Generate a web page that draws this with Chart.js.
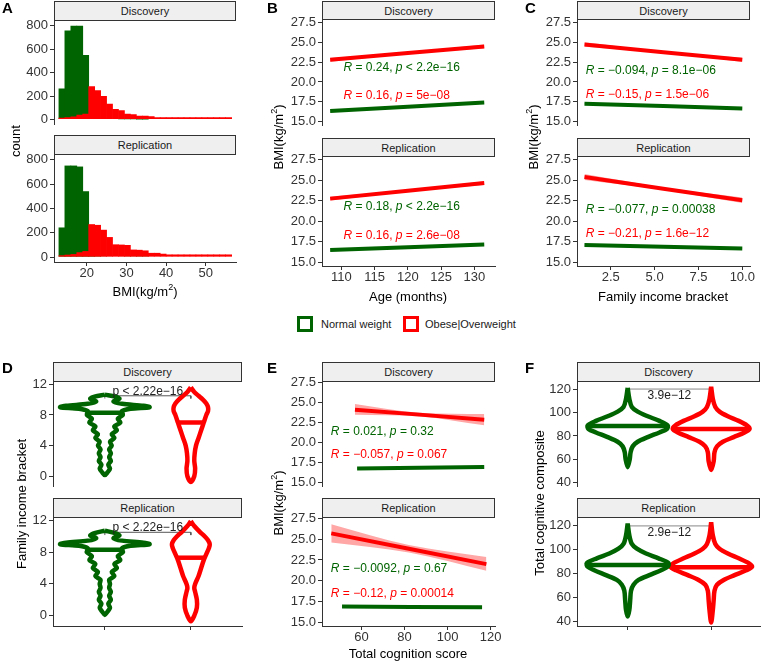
<!DOCTYPE html>
<html>
<head>
<meta charset="utf-8">
<script src="https://cdn.jsdelivr.net/npm/chart.js@4.4.1/dist/chart.umd.min.js"></script>
<style>
    body { margin: 0; width: 761px; height: 661px; position: relative; overflow: hidden; background: #fff;
           font-family: "Liberation Sans", Arial, sans-serif; }
    .strip { position: absolute; box-sizing: border-box; border: 1px solid #333; background: #efefef;
             font-size: 11px; color: #1a1a1a; display: flex; align-items: center; justify-content: center; z-index: 2; }
    .tag { position: absolute; font-weight: bold; font-size: 15px; line-height: 15px; z-index: 3; }
    .ttl { position: absolute; font-size: 13px; line-height: 15px; color: #000; white-space: nowrap;
           transform: translate(-50%, -50%); z-index: 3; }
    .ttl.rot { transform: translate(-50%, -50%) rotate(-90deg); }
    .ttl sup { font-size: 9px; line-height: 0; }
    .key { position: absolute; box-sizing: border-box; width: 16px; height: 16px; border: 3px solid; background: #fff; }
    .keytxt { position: absolute; font-size: 11px; line-height: 14px; color: #1a1a1a; white-space: nowrap; }
</style>
</head>
<body>
<script>
"use strict"

//colori
const GREEN = "#006400";
const RED = "#ff0000";

// ---------- A: istogramma BMI (centri dei bin, larghezza 1.5)
const bmiBins = [13.75, 15.25, 16.75, 18.25, 19.75, 21.25, 22.75, 24.25, 25.75, 27.25, 28.75, 30.25, 31.75, 33.25, 34.75,
    36.25, 37.75, 39.25, 40.75, 42.25, 43.75, 45.25, 46.75, 48.25, 49.75, 51.25, 52.75, 54.25, 55.75];
const histNormDisc = [265, 760, 800, 800, 550, 12, 8, 6, 5, 4, 3, 2, 2, 1, 1, 0, 0, 0, 0, 0, 0, 0, 0, 0, 0, 0, 0, 0, 0];
const histObeseDisc = [15, 20, 25, 40, 50, 283, 250, 200, 135, 90, 80, 50, 45, 32, 32, 28, 20, 20, 20, 20, 20, 20, 20, 20, 20, 20, 20, 20, 20];
const histNormRepl = [244, 753, 753, 745, 542, 12, 8, 6, 5, 4, 3, 2, 2, 1, 1, 0, 0, 0, 0, 0, 0, 0, 0, 0, 0, 0, 0, 0, 0];
const histObeseRepl = [15, 20, 25, 40, 50, 271, 265, 225, 165, 105, 103, 100, 62, 60, 55, 35, 35, 28, 22, 22, 22, 22, 22, 22, 22, 22, 22, 22, 22];
const countTicks = [0, 200, 400, 600, 800];
const bmiTicks = [20, 30, 40, 50];

// ---------- B: BMI vs eta' (retta + banda)
const ageX = [108.3, 120, 131.5];
const bNormDisc = [16.33, 16.88, 17.42], bNormDiscLo = [16.25, 16.83, 17.34], bNormDiscHi = [16.41, 16.93, 17.5];
const bObeseDisc = [22.78, 23.63, 24.47], bObeseDiscLo = [22.55, 23.53, 24.25], bObeseDiscHi = [23.0, 23.73, 24.7];
const bNormRepl = [16.49, 16.83, 17.17], bNormReplLo = [16.41, 16.78, 17.09], bNormReplHi = [16.57, 16.88, 17.25];
const bObeseRepl = [22.74, 23.69, 24.63], bObeseReplLo = [22.5, 23.58, 24.4], bObeseReplHi = [22.98, 23.8, 24.86];
const ageTicks = [110, 115, 120, 125, 130];

// ---------- C: BMI vs fascia di reddito
const incomeX = [1, 5.5, 10];
const cNormDisc = [17.26, 16.96, 16.66], cNormDiscLo = [17.18, 16.92, 16.58], cNormDiscHi = [17.34, 17.0, 16.74];
const cObeseDisc = [24.72, 23.75, 22.78], cObeseDiscLo = [24.44, 23.63, 22.52], cObeseDiscHi = [25.0, 23.87, 23.04];
const cNormRepl = [17.09, 16.89, 16.69], cNormReplLo = [17.01, 16.85, 16.61], cNormReplHi = [17.17, 16.93, 16.77];
const cObeseRepl = [25.36, 23.95, 22.54], cObeseReplLo = [25.0, 23.8, 22.2], cObeseReplHi = [25.72, 24.1, 22.88];
const incomeTicks = [2.5, 5, 7.5, 10];
const incomeLabels = ["2.5", "5.0", "7.5", "10.0"];

// ---------- E: BMI vs cognizione
const eNormDiscX = [58, 87, 117], eNormDisc = [16.75, 16.85, 16.95], eNormDiscLo = [16.63, 16.8, 16.83], eNormDiscHi = [16.87, 16.9, 17.07];
const eObeseDiscX = [57, 87, 117], eObeseDisc = [24.1, 23.48, 22.85], eObeseDiscLo = [23.45, 23.25, 22.15], eObeseDiscHi = [24.8, 23.72, 23.55];
const eNormReplX = [51, 83, 116], eNormRepl = [16.9, 16.85, 16.8], eNormReplLo = [16.8, 16.8, 16.7], eNormReplHi = [17.0, 16.9, 16.9];
const eObeseReplX = [46, 82, 118], eObeseRepl = [25.7, 23.85, 22.0], eObeseReplLo = [24.6, 23.4, 21.2], eObeseReplHi = [26.8, 24.3, 22.85];
const cogTicks = [60, 80, 100, 120];

const bmiYTicks = [15, 17.5, 20, 22.5, 25, 27.5];
const bmiYLabels = ["15.0", "17.5", "20.0", "22.5", "25.0", "27.5"];

// ---------- D: violini fascia di reddito (livello, semi-larghezza)
const dNormDiscY = [10.65, 10.4, 10.1, 9.75, 9.45, 9.2, 9.0, 8.8, 8.5, 8.0, 7.5, 7.0, 6.5, 6.0, 5.5, 5.0, 4.5, 4.0, 3.5, 3.0, 2.5, 2.0, 1.5, 1.0, 0.5, 0.15];
const dNormDiscW = [0, 0.12, 0.17, 0.1, 0.2, 0.45, 0.52, 0.3, 0.2, 0.21, 0.15, 0.18, 0.11, 0.14, 0.08, 0.11, 0.06, 0.08, 0.05, 0.07, 0.05, 0.07, 0.04, 0.06, 0.03, 0];
const dObeseDiscY = [11.6, 11.0, 10.5, 10.0, 9.5, 9.0, 8.5, 8.0, 7.0, 6.0, 5.0, 4.0, 3.0, 2.0, 1.0, 0.0, -0.75];
const dObeseDiscW = [0, 0.04, 0.09, 0.14, 0.18, 0.2, 0.2, 0.18, 0.15, 0.12, 0.09, 0.06, 0.045, 0.04, 0.05, 0.04, 0];
const dNormReplY = [10.7, 10.4, 10.1, 9.75, 9.45, 9.2, 9.0, 8.8, 8.5, 8.0, 7.5, 7.0, 6.5, 6.0, 5.5, 5.0, 4.5, 4.0, 3.5, 3.0, 2.5, 2.0, 1.5, 1.0, 0.5, 0.1];
const dNormReplW = [0, 0.12, 0.17, 0.1, 0.2, 0.45, 0.52, 0.3, 0.2, 0.21, 0.15, 0.18, 0.11, 0.14, 0.08, 0.11, 0.05, 0.06, 0.05, 0.07, 0.05, 0.07, 0.04, 0.06, 0.03, 0];
const dObeseReplY = [11.9, 11.3, 10.5, 10.0, 9.5, 9.0, 8.5, 8.0, 7.0, 6.0, 5.0, 4.0, 3.5, 3.0, 2.0, 1.0, 0.0, -0.7];
const dObeseReplW = [0, 0.04, 0.11, 0.16, 0.2, 0.22, 0.21, 0.19, 0.15, 0.12, 0.09, 0.05, 0.04, 0.05, 0.07, 0.07, 0.04, 0];
const dMedians = { normDisc: [8.3, 0.2], obeseDisc: [7.0, 0.15], normRepl: [8.3, 0.2], obeseRepl: [7.3, 0.16] };
const incomeYTicks = [0, 4, 8, 12];

// ---------- F: violini cognizione
const fNormDiscY = [121.5, 112, 105, 101, 97, 93, 89, 86, 83, 79, 75, 71, 66, 60, 53];
const fNormDiscW = [0, 0.02, 0.05, 0.12, 0.24, 0.38, 0.48, 0.47, 0.38, 0.24, 0.12, 0.06, 0.035, 0.025, 0];
const fObeseDiscY = [122.5, 112, 105, 101, 97, 93, 89, 86, 83, 79, 75, 71, 66, 58, 50.5];
const fObeseDiscW = [0, 0.02, 0.05, 0.1, 0.2, 0.33, 0.43, 0.46, 0.4, 0.27, 0.14, 0.07, 0.04, 0.03, 0];
const fNormReplY = [122, 112, 105, 101, 97, 93, 89, 86, 83, 79, 75, 71, 66, 58, 50, 44.5];
const fNormReplW = [0, 0.02, 0.05, 0.11, 0.22, 0.37, 0.49, 0.48, 0.4, 0.26, 0.13, 0.07, 0.04, 0.03, 0.02, 0];
const fObeseReplY = [123, 112, 105, 101, 97, 93, 89, 86, 83, 79, 75, 71, 66, 58, 50, 39.5];
const fObeseReplW = [0, 0.02, 0.05, 0.1, 0.2, 0.33, 0.45, 0.49, 0.42, 0.28, 0.15, 0.07, 0.04, 0.03, 0.02, 0];
const fMedians = { normDisc: [88.5, 0.48], obeseDisc: [86, 0.46], normRepl: [87.5, 0.48], obeseRepl: [85.5, 0.49] };
const cogYTicks = [40, 60, 80, 100, 120];

Chart.defaults.font.family = '"Liberation Sans", Arial, sans-serif';

//funzioni di supporto
function pts(xs, ys) {
    return xs.map((x, i) => ({ x: x, y: ys[i] }));
}

function stat(r, op, p) {
    return [{ t: "R", i: 1 }, { t: " = " + r + ", " }, { t: "p", i: 1 }, { t: " " + op + " " + p }];
}

function notes(items) {
    return {
        id: "notes",
        afterDatasetsDraw(chart) {
            const ctx = chart.ctx;
            items.forEach(function (it) {
                const font = r => (r.i ? "italic " : "") + "12px \"Liberation Sans\", Arial, sans-serif";
                let px = chart.scales.x.getPixelForValue(it.x);
                const py = chart.scales.y.getPixelForValue(it.y);
                ctx.save();
                ctx.fillStyle = it.color;
                ctx.textBaseline = "middle";
                let total = 0;
                it.runs.forEach(r => { ctx.font = font(r); total += ctx.measureText(r.t).width; });
                if (it.center) px -= total / 2;
                it.runs.forEach(r => { ctx.font = font(r); ctx.fillText(r.t, px, py); px += ctx.measureText(r.t).width; });
                ctx.restore();
            });
        }
    };
}

function bars(vals, color) {
    return {
        type: "bar", data: pts(bmiBins, vals), backgroundColor: color, borderWidth: 0,
        grouped: false, barPercentage: 1.12, categoryPercentage: 1
    };
}

function fitLayers(xs, fit, lo, hi, color, band) {
    return [
        { type: "line", data: pts(xs, fit), borderColor: color, borderWidth: 4, pointRadius: 0, fill: false, order: 0 },
        { type: "line", data: pts(xs, hi), borderColor: "transparent", borderWidth: 0, pointRadius: 0, fill: false,
          cubicInterpolationMode: "monotone", order: 1 },
        { type: "line", data: pts(xs, lo), borderColor: "transparent", borderWidth: 0, pointRadius: 0, fill: "-1",
          backgroundColor: band, cubicInterpolationMode: "monotone", order: 1 }
    ];
}

function violin(c, ys, ws, med, color) {
    const right = ys.map((y, i) => ({ x: c + ws[i], y: y }));
    const left = ys.map((y, i) => ({ x: c - ws[i], y: y })).reverse();
    return [
        { type: "line", data: right.concat(left.slice(1)), borderColor: color, borderWidth: 4.5, pointRadius: 0,
          tension: 0.3, fill: false, borderJoinStyle: "round" },
        { type: "line", data: [{ x: c - med[1], y: med[0] }, { x: c + med[1], y: med[0] }], borderColor: color,
          borderWidth: 4.5, pointRadius: 0, fill: false }
    ];
}

function bracket(y, tip, color) {
    return { type: "line", data: [{ x: 1, y: tip }, { x: 1, y: y }, { x: 2, y: y }, { x: 2, y: tip }],
             borderColor: color, borderWidth: 1, pointRadius: 0, fill: false };
}

function makePlot(box, opt) {
    const yw = 45, padT = 10, padR = 16;
    const xh = opt.bottom ? 30 : 6;
    const W = yw + box.w + padR, H = padT + box.h + xh;
    const cv = document.createElement("canvas");
    cv.width = W;
    cv.height = H;
    cv.style.cssText = "position:absolute;z-index:1;left:" + (box.l - yw) + "px;top:" + (box.t - padT) + "px;width:" + W + "px;height:" + H + "px";
    document.body.appendChild(cv);
    const ax = "#333";
    const xLabels = opt.xLabels || opt.xTicks.map(String);
    const yLabels = opt.yLabels || opt.yTicks.map(String);
    return new Chart(cv, {
        type: "line",
        data: { datasets: opt.datasets },
        options: {
            responsive: false, animation: false, devicePixelRatio: 1, events: [],
            layout: { padding: { top: padT, right: padR, left: 0, bottom: 0 } },
            plugins: { legend: { display: false }, tooltip: { enabled: false } },
            scales: {
                x: {
                    type: "linear", min: opt.x[0], max: opt.x[1], offset: false,
                    afterBuildTicks: s => { s.ticks = opt.xTicks.map(v => ({ value: v })); },
                    afterFit: s => { s.height = xh; },
                    ticks: { display: !!opt.bottom, autoSkip: false, maxRotation: 0, padding: 0, color: ax,
                             font: { size: 13 }, callback: (v, i) => xLabels[i] },
                    grid: { display: !!opt.bottom, offset: false, drawOnChartArea: false, tickLength: 4, color: ax },
                    border: { display: !!opt.bottom, color: ax }
                },
                y: {
                    type: "linear", min: opt.y[0], max: opt.y[1],
                    afterBuildTicks: s => { s.ticks = opt.yTicks.map(v => ({ value: v })); },
                    afterFit: s => { s.width = yw; },
                    ticks: { autoSkip: false, padding: 2, color: ax, font: { size: 13 }, callback: (v, i) => yLabels[i] },
                    grid: { drawOnChartArea: false, tickLength: 4, color: ax },
                    border: { color: ax }
                }
            }
        },
        plugins: [notes(opt.notes || [])]
    });
}

function div(cls, html, css) {
    const d = document.createElement("div");
    d.className = cls;
    d.innerHTML = html;
    d.style.cssText = css;
    document.body.appendChild(d);
    return d;
}

function strip(text, l, t, w, h) {
    div("strip", text, "left:" + l + "px;top:" + t + "px;width:" + w + "px;height:" + h + "px");
}

function title(html, x, y, rot) {
    div(rot ? "ttl rot" : "ttl", html, "left:" + x + "px;top:" + y + "px");
}

const BMI = "BMI(kg/m<sup>2</sup>)";

// ---------- A
makePlot({ l: 54, t: 21, w: 182, h: 107 }, {
    x: [11.76, 57.6], y: [-40, 840], xTicks: bmiTicks, yTicks: countTicks,
    datasets: [bars(histObeseDisc, RED), bars(histNormDisc, GREEN)]
});
makePlot({ l: 54, t: 155, w: 182, h: 107 }, {
    bottom: true, x: [11.76, 57.6], y: [-40, 840], xTicks: bmiTicks, yTicks: countTicks,
    datasets: [bars(histObeseRepl, RED), bars(histNormRepl, GREEN)]
});

// ---------- B
makePlot({ l: 322, t: 20, w: 173, h: 109 }, {
    x: [107.07, 133.12], y: [14.55, 27.8], xTicks: ageTicks, yTicks: bmiYTicks, yLabels: bmiYLabels,
    datasets: [].concat(
        fitLayers(ageX, bObeseDisc, bObeseDiscLo, bObeseDiscHi, RED, "rgba(255,0,0,0.35)"),
        fitLayers(ageX, bNormDisc, bNormDiscLo, bNormDiscHi, GREEN, "rgba(0,100,0,0.35)")),
    notes: [
        { x: 110.3, y: 21.8, color: GREEN, runs: stat("0.24", "<", "2.2e\u221216") },
        { x: 110.3, y: 18.3, color: RED, runs: stat("0.16", "=", "5e\u221208") }
    ]
});
makePlot({ l: 322, t: 157, w: 173, h: 109 }, {
    bottom: true, x: [107.07, 133.12], y: [14.55, 27.8], xTicks: ageTicks, yTicks: bmiYTicks, yLabels: bmiYLabels,
    datasets: [].concat(
        fitLayers(ageX, bObeseRepl, bObeseReplLo, bObeseReplHi, RED, "rgba(255,0,0,0.35)"),
        fitLayers(ageX, bNormRepl, bNormReplLo, bNormReplHi, GREEN, "rgba(0,100,0,0.35)")),
    notes: [
        { x: 110.3, y: 21.8, color: GREEN, runs: stat("0.18", "<", "2.2e\u221216") },
        { x: 110.3, y: 18.2, color: RED, runs: stat("0.16", "=", "2.6e\u221208") }
    ]
});

// ---------- C
makePlot({ l: 577, t: 20, w: 173, h: 109 }, {
    x: [0.574, 10.44], y: [14.55, 27.8], xTicks: incomeTicks, xLabels: incomeLabels, yTicks: bmiYTicks, yLabels: bmiYLabels,
    datasets: [].concat(
        fitLayers(incomeX, cObeseDisc, cObeseDiscLo, cObeseDiscHi, RED, "rgba(255,0,0,0.35)"),
        fitLayers(incomeX, cNormDisc, cNormDiscLo, cNormDiscHi, GREEN, "rgba(0,100,0,0.35)")),
    notes: [
        { x: 1.07, y: 21.45, color: GREEN, runs: stat("\u22120.094", "=", "8.1e\u221206") },
        { x: 1.07, y: 18.43, color: RED, runs: stat("\u22120.15", "=", "1.5e\u221206") }
    ]
});
makePlot({ l: 577, t: 157, w: 173, h: 109 }, {
    bottom: true, x: [0.574, 10.44], y: [14.55, 27.8], xTicks: incomeTicks, xLabels: incomeLabels, yTicks: bmiYTicks, yLabels: bmiYLabels,
    datasets: [].concat(
        fitLayers(incomeX, cObeseRepl, cObeseReplLo, cObeseReplHi, RED, "rgba(255,0,0,0.35)"),
        fitLayers(incomeX, cNormRepl, cNormReplLo, cNormReplHi, GREEN, "rgba(0,100,0,0.35)")),
    notes: [
        { x: 1.07, y: 21.4, color: GREEN, runs: stat("\u22120.077", "=", "0.00038") },
        { x: 1.07, y: 18.5, color: RED, runs: stat("\u22120.21", "=", "1.6e\u221212") }
    ]
});

// ---------- D
makePlot({ l: 53, t: 382, w: 189, h: 108 }, {
    x: [0.397, 2.595], y: [-1.3, 12.3], xTicks: [1, 2], yTicks: incomeYTicks,
    datasets: [].concat(
        violin(1, dNormDiscY, dNormDiscW, dMedians.normDisc, GREEN),
        violin(2, dObeseDiscY, dObeseDiscW, dMedians.obeseDisc, RED),
        [bracket(10.5, 10.15, "#555")]),
    notes: [{ x: 1.5, y: 11.05, center: true, color: "#222", runs: [{ t: "p < 2.22e\u221216" }] }]
});
makePlot({ l: 53, t: 518, w: 189, h: 108 }, {
    bottom: true, x: [0.397, 2.595], y: [-1.3, 12.3], xTicks: [1, 2], xLabels: ["", ""], yTicks: incomeYTicks,
    datasets: [].concat(
        violin(1, dNormReplY, dNormReplW, dMedians.normRepl, GREEN),
        violin(2, dObeseReplY, dObeseReplW, dMedians.obeseRepl, RED),
        [bracket(10.5, 10.15, "#555")]),
    notes: [{ x: 1.5, y: 11.05, center: true, color: "#222", runs: [{ t: "p < 2.22e\u221216" }] }]
});

// ---------- E
makePlot({ l: 322, t: 382, w: 173, h: 108 }, {
    x: [41.7, 122], y: [14.55, 27.55], xTicks: cogTicks, yTicks: bmiYTicks, yLabels: bmiYLabels,
    datasets: [].concat(
        fitLayers(eObeseDiscX, eObeseDisc, eObeseDiscLo, eObeseDiscHi, RED, "rgba(255,0,0,0.35)"),
        fitLayers(eNormDiscX, eNormDisc, eNormDiscLo, eNormDiscHi, GREEN, "rgba(0,100,0,0.35)")),
    notes: [
        { x: 45.8, y: 21.4, color: GREEN, runs: stat("0.021", "=", "0.32") },
        { x: 45.8, y: 18.5, color: RED, runs: stat("\u22120.057", "=", "0.067") }
    ]
});
makePlot({ l: 322, t: 518, w: 173, h: 108 }, {
    bottom: true, x: [41.7, 122], y: [14.55, 27.55], xTicks: cogTicks, yTicks: bmiYTicks, yLabels: bmiYLabels,
    datasets: [].concat(
        fitLayers(eObeseReplX, eObeseRepl, eObeseReplLo, eObeseReplHi, RED, "rgba(255,0,0,0.35)"),
        fitLayers(eNormReplX, eNormRepl, eNormReplLo, eNormReplHi, GREEN, "rgba(0,100,0,0.35)")),
    notes: [
        { x: 45.8, y: 21.4, color: GREEN, runs: stat("\u22120.0092", "=", "0.67") },
        { x: 45.8, y: 18.4, color: RED, runs: stat("\u22120.12", "=", "0.00014") }
    ]
});

// ---------- F
makePlot({ l: 577, t: 382, w: 183, h: 108 }, {
    x: [0.393, 2.585], y: [36.6, 126.6], xTicks: [1, 2], yTicks: cogYTicks,
    datasets: [].concat(
        violin(1, fNormDiscY, fNormDiscW, fMedians.normDisc, GREEN),
        violin(2, fObeseDiscY, fObeseDiscW, fMedians.obeseDisc, RED),
        [bracket(120.5, 118, "#888")]),
    notes: [{ x: 1.5, y: 115, center: true, color: "#222", runs: [{ t: "3.9e\u221212" }] }]
});
makePlot({ l: 577, t: 518, w: 183, h: 108 }, {
    bottom: true, x: [0.393, 2.585], y: [36.6, 126.6], xTicks: [1, 2], xLabels: ["", ""], yTicks: cogYTicks,
    datasets: [].concat(
        violin(1, fNormReplY, fNormReplW, fMedians.normRepl, GREEN),
        violin(2, fObeseReplY, fObeseReplW, fMedians.obeseRepl, RED),
        [bracket(120, 117.5, "#888")]),
    notes: [{ x: 1.5, y: 114, center: true, color: "#222", runs: [{ t: "2.9e\u221212" }] }]
});

// strisce dei facet
strip("Discovery", 54, 1, 182, 20);   strip("Replication", 54, 135, 182, 20);
strip("Discovery", 322, 1, 173, 19);  strip("Replication", 322, 138, 173, 19);
strip("Discovery", 577, 1, 173, 19);  strip("Replication", 577, 138, 173, 19);
strip("Discovery", 53, 362, 189, 20); strip("Replication", 53, 498, 189, 20);
strip("Discovery", 322, 362, 173, 20); strip("Replication", 322, 498, 173, 20);
strip("Discovery", 577, 362, 183, 20); strip("Replication", 577, 498, 183, 20);

// lettere dei pannelli
div("tag", "A", "left:2px;top:0px");
div("tag", "B", "left:267px;top:0px");
div("tag", "C", "left:525px;top:0px");
div("tag", "D", "left:2px;top:360px");
div("tag", "E", "left:267px;top:360px");
div("tag", "F", "left:525px;top:360px");

// titoli degli assi
title("count", 15, 141, true);
title(BMI, 145, 291, false);
title(BMI, 278, 137, true);
title("Age (months)", 408, 296, false);
title(BMI, 533, 137, true);
title("Family income bracket", 663, 296, false);
title("Family income bracket", 21, 504, true);
title(BMI, 278, 503, true);
title("Total cognition score", 408, 653, false);
title("Total cognitive composite", 539, 503, true);

// legenda
div("key", "", "left:297px;top:316px;border-color:" + GREEN);
div("keytxt", "Normal weight", "left:321px;top:317px");
div("key", "", "left:403px;top:316px;border-color:" + RED);
div("keytxt", "Obese|Overweight", "left:425px;top:317px");
</script>
</body>
</html>
